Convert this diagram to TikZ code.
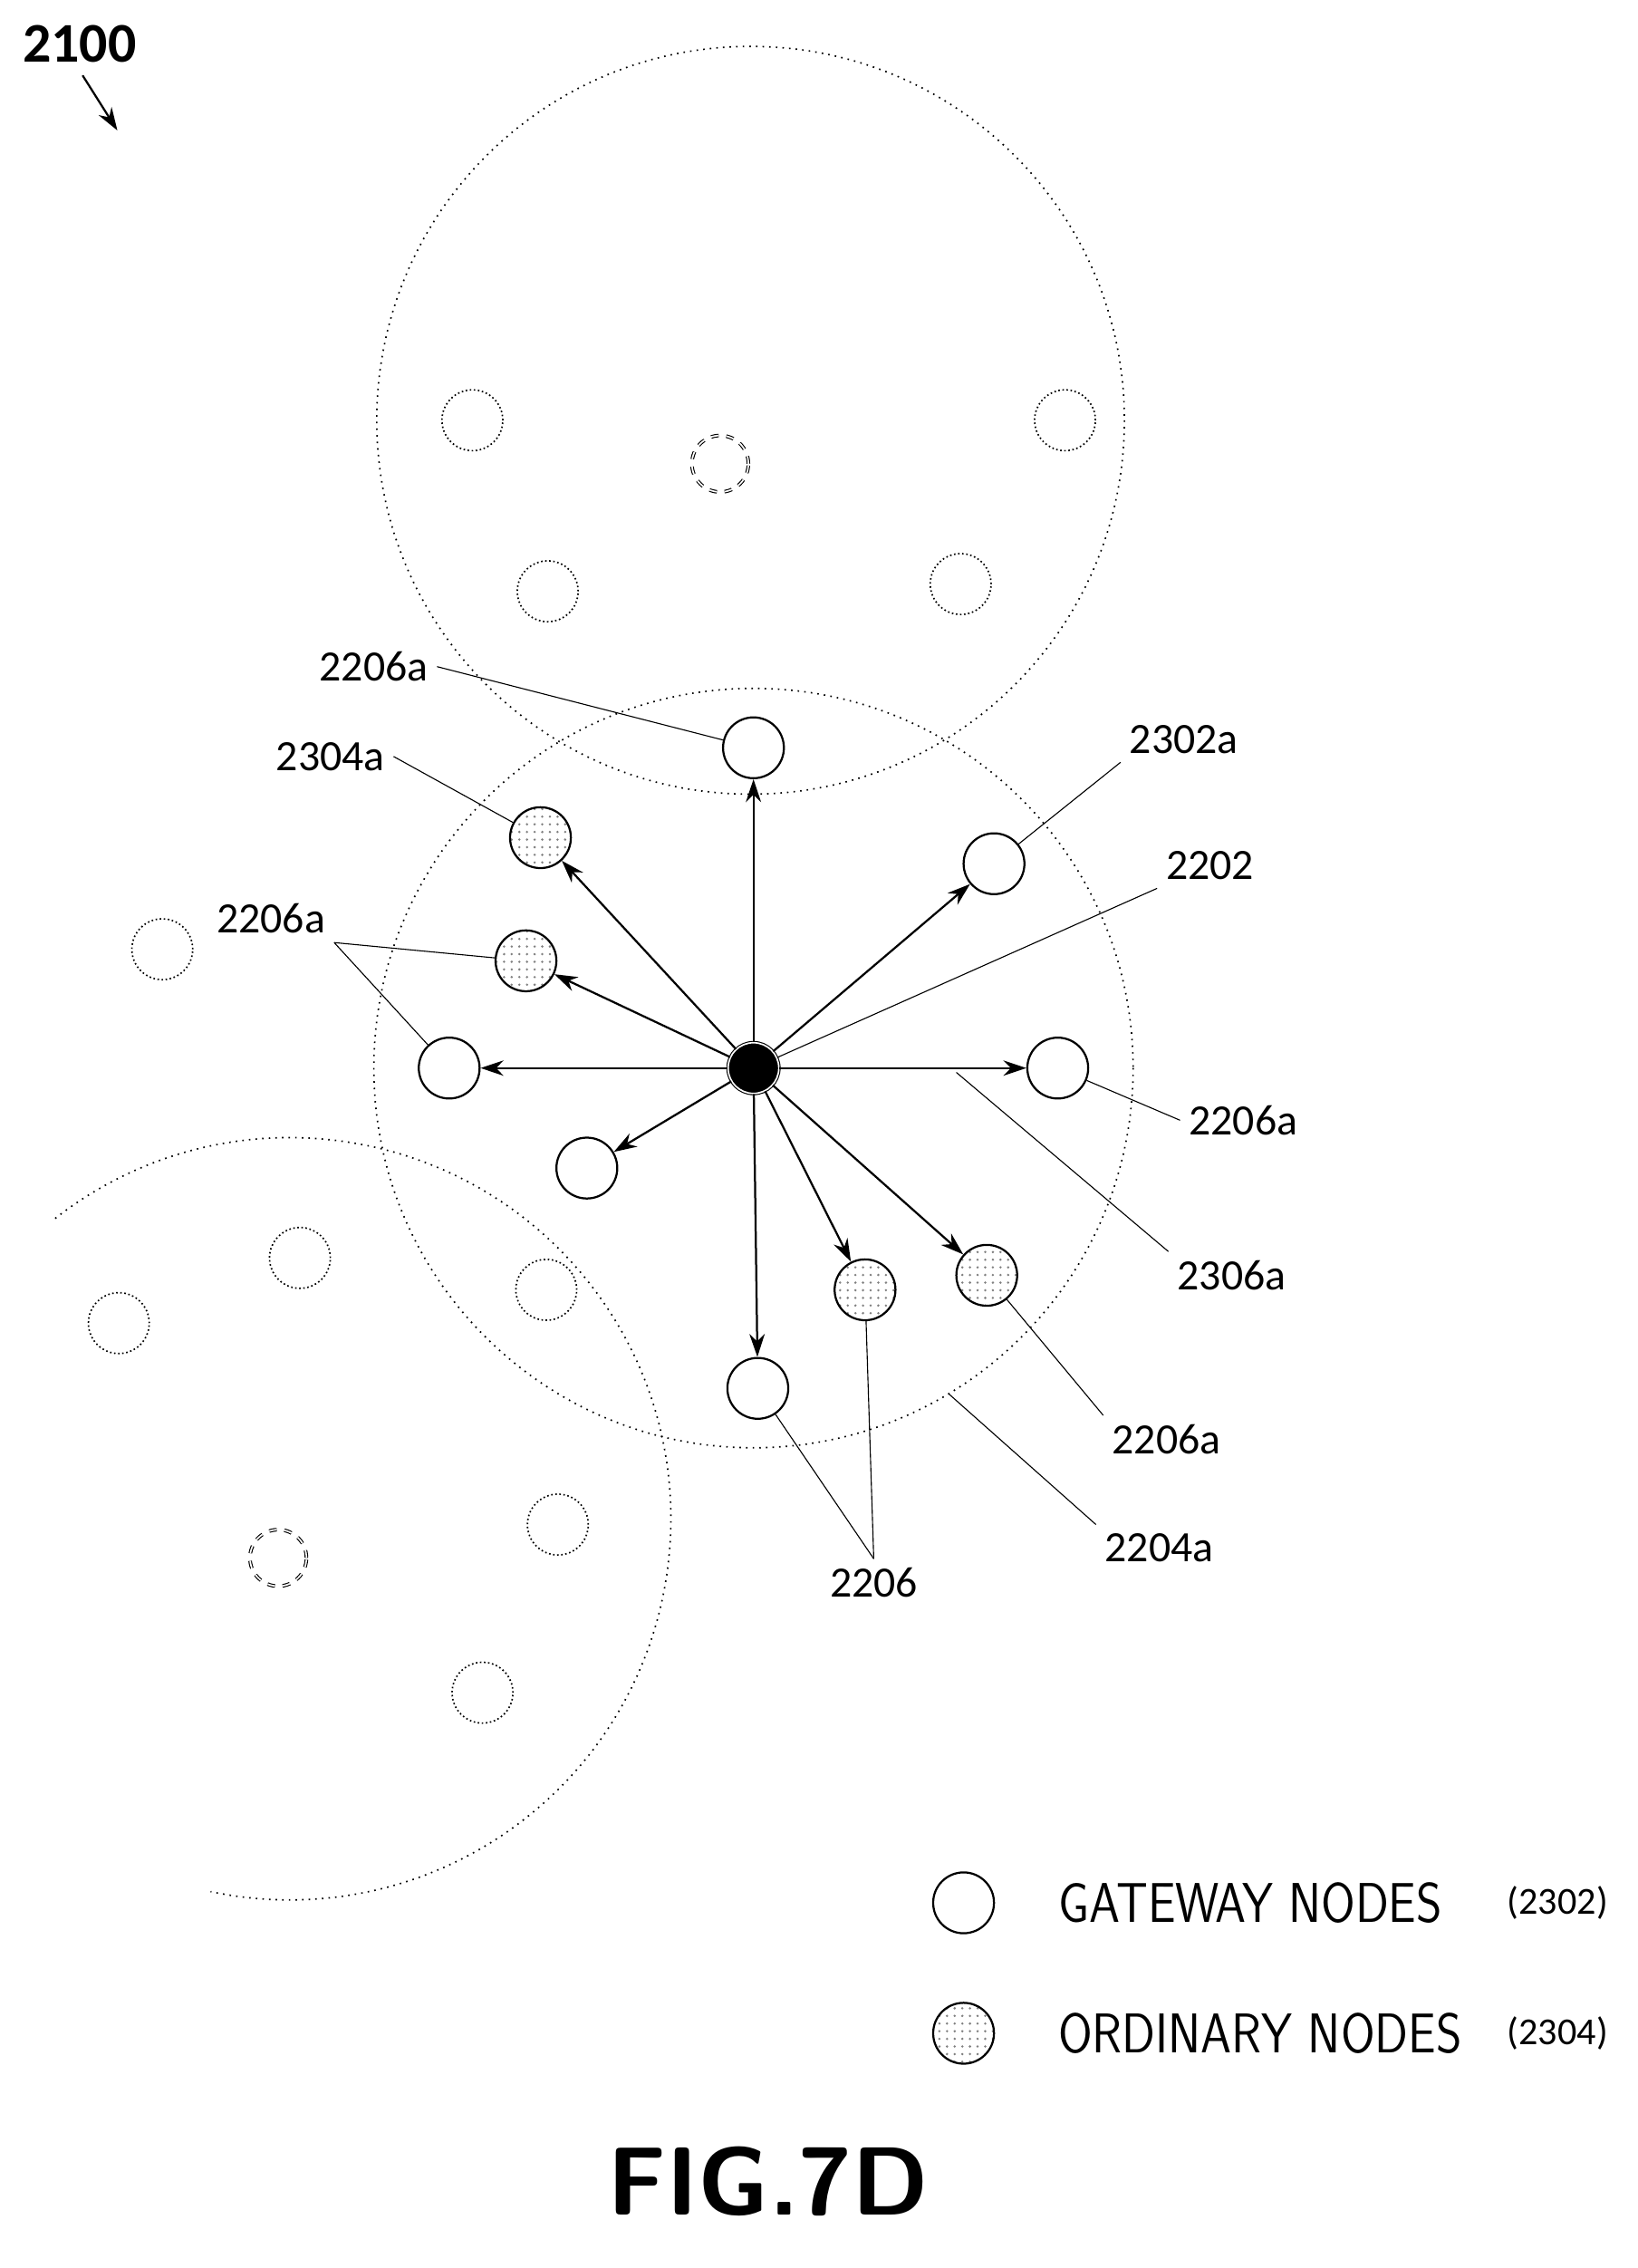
\documentclass[tikz,border=0pt]{standalone}
\usepackage{fontspec}
\setmainfont{Carlito}
\usetikzlibrary{patterns,arrows.meta}
\tikzset{
  gw/.style={circle,draw,thick,fill=white,minimum size=0.84cm,inner sep=0pt},
  ord/.style={circle,draw,thick,pattern=dots,pattern color=gray,minimum size=0.84cm,inner sep=0pt},
  far/.style={circle,draw,densely dotted,semithick,minimum size=0.84cm,inner sep=0pt},
  farx/.style={circle,draw,dashed,double,minimum size=0.78cm,inner sep=0pt},
  lbl/.style={font=\fontsize{17}{17}\selectfont},
  lead/.style={thin},
  cover/.style={dotted,semithick}
}
\begin{document}
\begin{tikzpicture}[x=0.02cm,y=-0.02cm]
  \useasboundingbox (0,0) rectangle (1130,1565);
  % coverage areas
  \draw [cover] (518,290) circle [radius=258];
  \draw [cover] (520,737) circle [radius=262];
  \draw [cover] (200,1048) ++(-128:263) arc [start angle=-128,end angle=102,radius=263];
  % neighbouring nodes
  \node [far] (t1) at (326,290) {};
  \node [far] (t2) at (735,290) {};
  \node [far] (t3) at (378,408) {};
  \node [far] (t4) at (663,403) {};
  \node [farx] (t5) at (497,320) {};
  \node [far] (l1) at (112,655) {};
  \node [far] (b1) at (207,868) {};
  \node [far] (b2) at (82,913) {};
  \node [far] (b3) at (377,890) {};
  \node [far] (b4) at (385,1052) {};
  \node [farx] (b5) at (192,1075) {};
  \node [far] (b6) at (333,1168) {};
  % cluster
  \node [circle,draw,double,fill=black,minimum size=0.7cm,inner sep=0pt] (c) at (520,737) {};
  \node [gw] (g1) at (520,516) {};
  \node [gw] (g2) at (686,596) {};
  \node [gw] (g3) at (310,737) {};
  \node [gw] (g4) at (730,737) {};
  \node [gw] (g5) at (405,806) {};
  \node [gw] (g6) at (523,958) {};
  \node [ord] (o1) at (373,578) {};
  \node [ord] (o2) at (363,663) {};
  \node [ord] (o3) at (597,890) {};
  \node [ord] (o4) at (681,880) {};
  \foreach \n in {g1,g2,g3,g4,g5,g6,o1,o2,o3,o4}
    \draw [-{Stealth[length=9pt,width=6pt]},thick] (c) -- (\n);
  % labels
  \node [lbl] (a1) at (258,460) {2206a};
  \node [lbl] (a2) at (228,522) {2304a};
  \node [lbl] (a3) at (187,634) {2206a};
  \node [lbl] (a4) at (817,510) {2302a};
  \node [lbl] (a5) at (835,597) {2202};
  \node [lbl] (a6) at (858,773) {2206a};
  \node [lbl] (a7) at (850,880) {2306a};
  \node [lbl] (a8) at (805,993) {2206a};
  \node [lbl] (a9) at (800,1068) {2204a};
  \node [lbl] (a10) at (603,1092) {2206};
  \coordinate (p7) at (660,740);
  \coordinate (p9) at (655,962);
  \draw [lead] (a1.east) -- (g1);
  \draw [lead] (a2.east) -- (o1);
  \draw [lead] (a3.south east) -- (o2);
  \draw [lead] (a3.south east) -- (g3);
  \draw [lead] (a4.south west) -- (g2);
  \draw [lead] (a5.south west) -- (c);
  \draw [lead] (a6.west) -- (g4);
  \draw [lead] (a7.north west) -- (p7);
  \draw [lead] (a8.north west) -- (o4);
  \draw [lead] (a9.north west) -- (p9);
  \draw [lead] (a10.north) -- (g6);
  \draw [lead] (a10.north) -- (o3);
  % figure number
  \node [font=\fontsize{22}{22}\selectfont\bfseries] (fig) at (55,30) {2100};
  \draw [-{Stealth[length=9pt,width=6pt]},thick] (fig.south) ++(2,3) -- ++(24,38);
  % legend
  \node [gw] (k1) at (665,1313) {};
  \node [ord] (k2) at (665,1403) {};
  \node [font=\fontsize{22}{22}\sffamily\selectfont,xscale=0.88,anchor=west] (k1t) at (725,1313) {GATEWAY NODES};
  \node [font=\fontsize{22}{22}\sffamily\selectfont,xscale=0.88,anchor=west] (k2t) at (725,1403) {ORDINARY NODES};
  \node [font=\fontsize{15}{15}\selectfont] at (1075,1313) {(2302)};
  \node [font=\fontsize{15}{15}\selectfont] at (1075,1403) {(2304)};
  \node [font=\fontsize{38}{38}\sffamily\bfseries\selectfont] at (530,1505) {FIG.7D};
\end{tikzpicture}
\end{document}
